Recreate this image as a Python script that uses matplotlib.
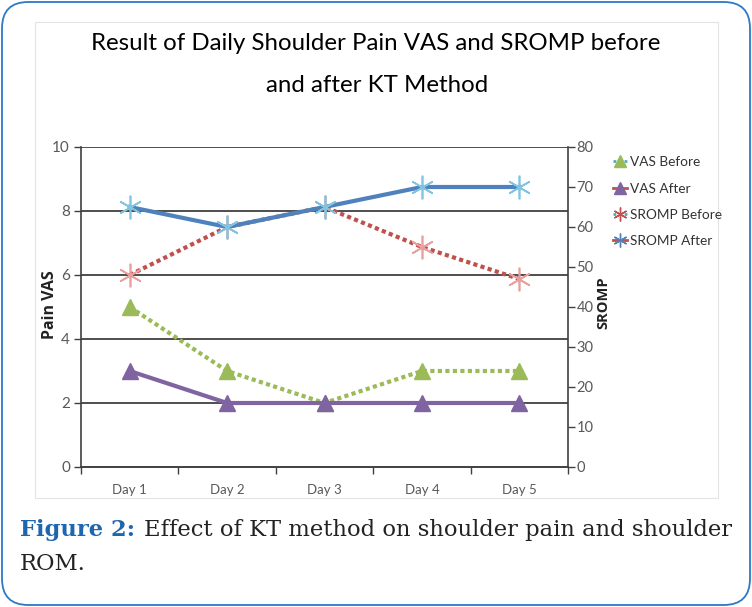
import matplotlib
matplotlib.use("Agg")
import matplotlib.pyplot as plt
from matplotlib.patches import FancyBboxPatch, Rectangle
from matplotlib.lines import Line2D

days = ["Day 1", "Day 2", "Day 3", "Day 4", "Day 5"]
vas_before = [5, 3, 2, 3, 3]
vas_after = [3, 2, 2, 2, 2]
sromp_before = [48, 60, 65, 55, 47]
sromp_after = [65, 60, 65, 70, 70]
left_ticks = [0, 2, 4, 6, 8, 10]
right_ticks = [0, 10, 20, 30, 40, 50, 60, 70, 80]

W, H = 752, 607
fig = plt.figure(figsize=(W / 100, H / 100), dpi=100)
fig.patch.set_facecolor("white")

# outer rounded border
border = FancyBboxPatch((2 / W, 2 / H), (W - 4) / W, (H - 4) / H,
                        boxstyle="round,pad=0,rounding_size=0.035",
                        transform=fig.transFigure, fill=False,
                        edgecolor="#2E78C4", linewidth=1.3, mutation_aspect=W / H)
fig.patches.append(border)
# inner chart frame
inner = Rectangle((35 / W, 1 - 498 / H), (718 - 35) / W, (498 - 22) / H,
                  transform=fig.transFigure, fill=False, edgecolor="#E3E3E3", linewidth=0.8)
fig.patches.append(inner)

tfont = "Lato"
fig.text(376 / W, 1 - 44 / H, "Result of Daily Shoulder Pain VAS and SROMP before",
         ha="center", va="center", fontsize=17.3, family=tfont, color="#000000")
fig.text(377 / W, 1 - 86 / H, "and after KT Method",
         ha="center", va="center", fontsize=17.3, family=tfont, color="#000000")

ax = fig.add_axes([81 / W, 1 - 467 / H, (568 - 81) / W, (467 - 147) / H])
ax2 = ax.twinx()

x = list(range(len(days)))
ax.set_xlim(-0.5, len(days) - 0.5)
ax.set_ylim(0, 10)
ax2.set_ylim(0, 80)

for y in left_ticks[1:]:
    ax.axhline(y, color="#404040", linewidth=1.3, zorder=1)

ax.plot(x, vas_before, color="#9BBB59", linestyle=(0, (1, 0.8)), linewidth=3,
        marker="^", markersize=11, markerfacecolor="#9BBB59", markeredgecolor="#9BBB59", zorder=3)
ax.plot(x, vas_after, color="#8064A2", linestyle="-", linewidth=3,
        marker="^", markersize=11, markerfacecolor="#8064A2", markeredgecolor="#8064A2", zorder=3)
ax2.plot(x, sromp_before, color="#C0504D", linestyle=(0, (1, 0.8)), linewidth=3, zorder=3)
ax2.plot(x, sromp_before, linestyle="none", marker=(6, 2, 0), markersize=17,
         markeredgecolor="#E8A09E", markeredgewidth=1.2, zorder=4)
ax2.plot(x, sromp_after, color="#4F81BD", linestyle="-", linewidth=3, zorder=3)
ax2.plot(x, sromp_after, linestyle="none", marker=(6, 2, 0), markersize=17,
         markeredgecolor="#7FC4E0", markeredgewidth=1.2, zorder=4)

tick_color = "#595959"
ax.set_xticks(x)
ax.set_xticklabels(days, family="Lato", fontsize=9.5, color=tick_color)
ax.set_xticks([i - 0.5 for i in range(len(days) + 1)], minor=True)
ax.tick_params(axis="x", which="major", length=0, pad=12)
ax.tick_params(axis="x", which="minor", length=5, width=1, color="#404040", direction="out")
ax.set_yticks(left_ticks)
ax.set_yticklabels([str(v) for v in left_ticks], family="Lato", fontsize=11, color=tick_color)
ax.tick_params(axis="y", length=5, width=1, color="#404040", direction="out", pad=3)
ax2.set_yticks(right_ticks)
ax2.set_yticklabels([str(v) for v in right_ticks], family="Lato", fontsize=10.5, color=tick_color)
ax2.tick_params(axis="y", length=5, width=1, color="#404040", direction="out", pad=1)

for a in (ax, ax2):
    a.spines["top"].set_visible(False)
    for s in ("left", "right", "bottom"):
        a.spines[s].set_color("#404040")
        a.spines[s].set_linewidth(1.2)
ax.spines["right"].set_visible(False)
ax2.spines["left"].set_visible(False)

ax.set_ylabel("Pain VAS", family="Open Sans", fontsize=11.5, fontweight="bold", color="#222222")
ax.yaxis.set_label_coords((58 - 81) / 487, (467 - 305) / 320)
ax2.set_ylabel("SROMP", family="Open Sans", fontsize=10.5, fontweight="bold", color="#222222",
               rotation=90)
ax2.yaxis.set_label_coords((596 - 81) / 487, (467 - 303) / 320)

handles = [
    Line2D([0], [0], color="#4BACC6", linestyle=(0, (1, 1)), linewidth=2, marker="^",
           markersize=8, markerfacecolor="#9BBB59", markeredgecolor="#9BBB59"),
    Line2D([0], [0], color="#C0504D", linestyle="-", linewidth=2, marker="^",
           markersize=8, markerfacecolor="#8064A2", markeredgecolor="#8064A2"),
    Line2D([0], [0], color="#4BACC6", linestyle=(0, (1, 1)), linewidth=2, marker=(6, 2, 0),
           markersize=10, markeredgecolor="#C0504D"),
    Line2D([0], [0], color="#C0504D", linestyle="-", linewidth=2, marker=(6, 2, 0),
           markersize=10, markeredgecolor="#4F81BD"),
]
fig.legend(handles, ["VAS Before", "VAS After", "SROMP Before", "SROMP After"],
           loc="upper left", bbox_to_anchor=(601 / W, 1 - 144 / H), frameon=False,
           prop={"family": "Lato", "size": 9.8}, handlelength=1.0, handletextpad=0.25,
           labelspacing=1.05, labelcolor="#333333")

# caption
cap_size = 16.3
t1 = fig.text(20 / W, 1 - 530 / H, "Figure 2:", ha="left", va="center", fontsize=cap_size,
              family="DejaVu Serif", fontweight="bold", color="#1F66B0")
fig.canvas.draw()
bb = t1.get_window_extent()
fig.text((bb.x1 + 9) / W, 1 - 530 / H, "Effect of KT method on shoulder pain and shoulder",
         ha="left", va="center", fontsize=cap_size, family="DejaVu Serif", color="#222222")
fig.text(20 / W, 1 - 564 / H, "ROM.", ha="left", va="center", fontsize=cap_size,
         family="DejaVu Serif", color="#222222")

fig.savefig("out.png", dpi=100, facecolor="white")
